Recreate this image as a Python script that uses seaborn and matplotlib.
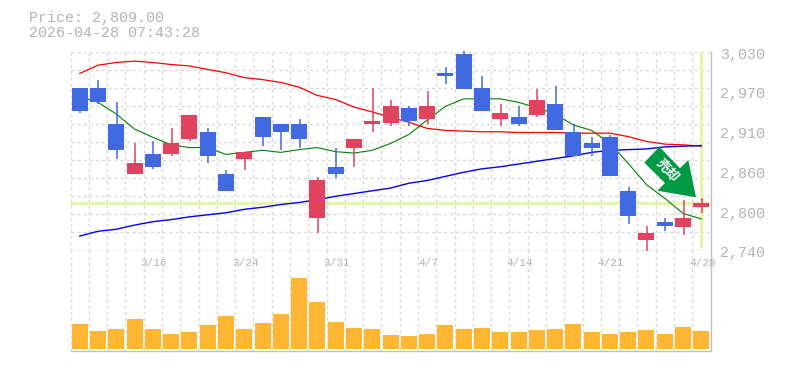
import numpy as np
import pandas as pd
import seaborn as sns
import matplotlib.pyplot as plt
from matplotlib.patches import Polygon
from matplotlib.ticker import FixedLocator
from matplotlib.transforms import ScaledTranslation

# Daily candles, oldest first
opens = [2977, 2977, 2924, 2851, 2881, 2881, 2902, 2912, 2851, 2874, 2935, 2924, 2925, 2788, 2862, 2890, 2925,
         2926, 2948, 2931, 2998, 3027, 2977, 2931, 2934, 2937, 2954, 2912, 2896, 2906, 2826, 2755, 2781, 2774, 2803]
closes = [2944, 2957, 2887, 2868, 2861, 2896, 2937, 2877, 2826, 2884, 2905, 2913, 2902, 2843, 2851, 2903, 2928,
          2951, 2928, 2951, 2994, 2976, 2943, 2940, 2924, 2959, 2916, 2877, 2890, 2848, 2790, 2766, 2775, 2788, 2809]
highs = [2977, 2988, 2957, 2896, 2899, 2918, 2937, 2918, 2858, 2884, 2935, 2924, 2932, 2847, 2890, 2903, 2977,
         2959, 2951, 2972, 3007, 3031, 2994, 2953, 2951, 2976, 2979, 2924, 2906, 2909, 2832, 2775, 2788, 2814, 2816]
lows = [2940, 2954, 2874, 2851, 2859, 2877, 2899, 2868, 2826, 2857, 2892, 2886, 2890, 2765, 2846, 2862, 2912,
        2921, 2921, 2925, 2982, 2976, 2943, 2921, 2921, 2935, 2916, 2877, 2878, 2848, 2779, 2739, 2768, 2762, 2794]

ma_short = [2964, 2956, 2939, 2917, 2905, 2894, 2890, 2890, 2880, 2883, 2886, 2883, 2887, 2890, 2884, 2882, 2886,
            2896, 2909, 2930, 2950, 2961, 2961, 2961, 2956, 2948, 2939, 2923, 2915, 2896, 2867, 2836, 2816, 2794, 2786]
ma_mid = [2998, 3010, 3014, 3016, 3014, 3011, 3009, 3004, 2999, 2992, 2989, 2985, 2978, 2966, 2960, 2949, 2942,
          2934, 2927, 2918, 2915, 2914, 2913, 2913, 2912, 2912, 2912, 2911, 2911, 2911, 2906, 2899, 2895, 2894, 2892]
ma_long = [2761, 2768, 2771, 2777, 2782, 2785, 2789, 2792, 2795, 2800, 2803, 2807, 2810, 2814, 2819, 2823, 2827,
           2831, 2838, 2842, 2848, 2854, 2859, 2862, 2866, 2870, 2874, 2878, 2883, 2886, 2887, 2888, 2891, 2892, 2893]

volume = [25, 18, 20, 30, 20, 15, 17, 24, 33, 20, 26, 35, 71, 47, 27, 21, 20, 14,
          13, 15, 24, 20, 21, 17, 17, 19, 20, 25, 17, 15, 17, 19, 15, 22, 18]

date_labels = ['3/16', '3/24', '3/31', '4/7', '4/14', '4/21', '4/28']
date_days = [4, 9, 14, 19, 24, 29, 34]
price_ticks = [2740, 2798, 2856, 2914, 2972, 3030]
price_labels = ['2,740', '2,800', '2,860', '2,910', '2,970', '3,030']
last_price = 2809
title_lines = ['Price: 2,809.00', '2026-04-28 07:43:28']

GRID = '#d9d9d9'
AXIS = '#c0c0c0'
TEXT = '#b4b4b4'
UP = '#e2425f'
DOWN = '#4169e1'
MARK = '#e6f5ac'
DASH = (0, (2.2, 2.2))

W, H = 785, 370
days = np.arange(len(opens))
df = pd.DataFrame({'day': days, 'open': opens, 'close': closes, 'high': highs, 'low': lows,
                   'short': ma_short, 'mid': ma_mid, 'long': ma_long, 'volume': volume})

sns.set_theme(style='white')
plt.rcParams['font.family'] = ['Liberation Mono', 'DejaVu Sans']

fig = plt.figure(figsize=(W / 100, H / 100), dpi=100)
ax = fig.add_axes([70.5 / W, 1 - 250.5 / H, 640 / W, 199 / H])
ax_vol = fig.add_axes([70.5 / W, 1 - 350.5 / H, 640 / W, 100 / H], sharex=ax)


def style_grid(a):
    a.set_axisbelow(True)
    a.xaxis.set_minor_locator(FixedLocator(days[:-1] + 0.5))
    a.grid(True, which='minor', axis='x', color=GRID, linestyle=DASH, linewidth=1)
    for side in ['top', 'left']:
        a.spines[side].set_visible(False)
    for side in ['bottom', 'right']:
        a.spines[side].set_color(AXIS)
        a.spines[side].set_linewidth(1)
    a.tick_params(which='both', length=0)


# Price panel
ax.set_xlim(-0.5, len(days) - 0.5)
ax.set_ylim(2740, 3030)
style_grid(ax)
ax.set_yticks(np.linspace(2740, 3030, 12), minor=True)
ax.grid(True, which='minor', axis='y', color=GRID, linestyle=DASH, linewidth=1)
ax.vlines([-0.5], 2740, 3030, color=GRID, linestyle=DASH, linewidth=1, zorder=1)
ax.hlines([3030], -0.5, 34.5, color=GRID, linestyle=DASH, linewidth=1, zorder=1)

ax.axhline(last_price, color=MARK, linewidth=2.4, zorder=1.5)
ax.vlines(days[-1], 2743, 3030, color=MARK, linewidth=2.4, zorder=1.5)

sns.lineplot(data=df, x='day', y='short', color='green', linewidth=0.8, ax=ax, zorder=2)
sns.lineplot(data=df, x='day', y='mid', color='red', linewidth=0.9, ax=ax, zorder=2)
sns.lineplot(data=df, x='day', y='long', color='blue', linewidth=1.0, ax=ax, zorder=2)

for d, o, c, h, l in zip(days, opens, closes, highs, lows):
    col = UP if c >= o else DOWN
    ax.vlines(d + 0.03, l, h, color=col, linewidth=1.1, zorder=3, clip_on=False)
    ax.bar(d, abs(c - o), bottom=min(o, c), width=0.875, color=col, linewidth=0, zorder=3)

ax.set_xlabel('')
ax.set_ylabel('')
ax.set_xticks(date_days, labels=[])
ax.yaxis.tick_right()
ax.set_yticks(price_ticks, labels=price_labels, color=TEXT, fontsize=10.8)
ax.tick_params(axis='y', pad=7)
shift = ScaledTranslation(0, -1.5 / 100, fig.dpi_scale_trans)
for lab in ax.get_yticklabels():
    lab.set_transform(lab.get_transform() + shift)

# Volume panel
sns.barplot(data=df, x='day', y='volume', native_scale=True, color='#ffb733', saturation=1,
            width=0.875, linewidth=0, ax=ax_vol, zorder=2)
style_grid(ax_vol)
ax_vol.vlines([-0.5], -2, 98, color=GRID, linestyle=DASH, linewidth=1, zorder=1)
ax_vol.set_xlim(-0.5, len(days) - 0.5)
ax_vol.set_ylim(-2, 98)
ax_vol.set_yticks([])
ax_vol.set_xlabel('')
ax_vol.set_ylabel('')
ax_vol.set_xticks([])
ax_vol.tick_params(labelbottom=False)

# Date labels sit just under the price panel, inside the volume panel
for d, lab in zip(date_days, date_labels):
    ax_vol.text(d + 0.05, 86, lab, ha='center', va='center', fontsize=8, color=TEXT, clip_on=False, zorder=4)

# Signal arrow, placed in figure pixels
arrow_px = [(659.3, 146.7), (644.3, 162.7), (665, 183), (657.3, 190.7), (696, 197.3), (688.3, 160), (680, 168.3)]
fig.add_artist(Polygon([(x / W, 1 - y / H) for x, y in arrow_px], closed=True, facecolor='#009944',
                       edgecolor='none', transform=fig.transFigure, zorder=5))
fig.text(667.5 / W, 1 - 170 / H, '売却', rotation=-48, rotation_mode='anchor', ha='center', va='center', color='white',
         fontsize=9.5, fontweight='bold', family=['Noto Sans CJK JP', 'DejaVu Sans'], zorder=6)

for line, ypos in zip(title_lines, [18, 33]):
    fig.text(29 / W, 1 - ypos / H, line, ha='left', va='center', fontsize=10.8, color=TEXT)

fig.savefig('out.png', dpi=100)
